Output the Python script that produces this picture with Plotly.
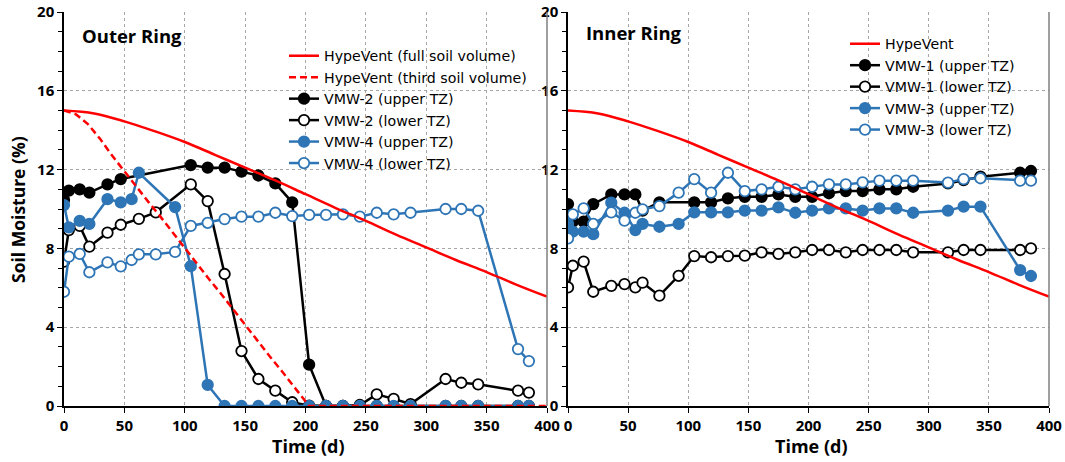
import plotly.graph_objects as go

# ---------------- data ----------------
# HypeVent model curves
hv_days = [0, 25, 50, 75, 100, 125, 150, 175, 200, 225, 250, 275, 300, 325, 350, 375, 400]
hv_full = [15.0, 14.85, 14.45, 13.95, 13.4, 12.75, 12.1, 11.45, 10.75, 10.05, 9.4, 8.7, 8.05, 7.4, 6.8, 6.15, 5.55]

hv3_days = [0, 10, 20, 30, 40, 50, 60, 70, 80, 90, 100, 110, 120, 130, 140, 150, 160, 170, 180, 190, 200, 203, 400]
hv3_vals = [15.0, 14.8, 14.3, 13.55, 12.7, 11.9, 11.15, 10.35, 9.6, 8.8, 8.0, 7.25, 6.45, 5.7, 4.9, 4.15, 3.35, 2.55, 1.8, 1.0, 0.25, 0.0, 0.0]

# Outer ring
vmw2u_days = [0, 4, 13, 21, 36, 47, 105, 119, 133, 147, 161, 175, 189, 203, 217, 231, 245, 259, 273, 287, 316, 329, 343, 376, 385]
vmw2u_vals = [10.46, 10.93, 11.0, 10.83, 11.25, 11.52, 12.23, 12.1, 12.1, 11.9, 11.7, 11.3, 10.34, 2.1, 0, 0, 0, 0, 0, 0, 0, 0, 0, 0, 0]

vmw2l_days = [0, 4, 13, 21, 36, 47, 62, 76, 105, 119, 133, 147, 161, 175, 189, 203, 217, 231, 245, 259, 273, 287, 316, 329, 343, 376, 385]
vmw2l_vals = [7.33, 8.93, 9.14, 8.09, 8.8, 9.2, 9.5, 9.83, 11.25, 10.4, 6.7, 2.79, 1.37, 0.78, 0.19, 0.02, 0, 0, 0.05, 0.59, 0.36, 0.1, 1.37, 1.18, 1.1, 0.78, 0.68]

vmw4u_days = [0, 4, 13, 21, 36, 47, 56, 62, 92, 105, 119, 133, 147, 161, 175, 189, 203, 217, 231, 245, 259, 273, 287, 316, 329, 343, 376, 385]
vmw4u_vals = [10.2, 9.07, 9.4, 9.24, 10.5, 10.34, 10.5, 11.84, 10.1, 7.1, 1.07, 0, 0, 0, 0, 0, 0, 0, 0, 0, 0, 0, 0, 0, 0, 0, 0, 0]

vmw4l_days = [0, 4, 13, 21, 36, 47, 56, 62, 76, 92, 105, 119, 133, 147, 161, 175, 189, 203, 217, 231, 245, 259, 273, 287, 316, 329, 343, 376, 385]
vmw4l_vals = [5.8, 7.58, 7.72, 6.79, 7.29, 7.09, 7.41, 7.7, 7.7, 7.82, 9.14, 9.3, 9.49, 9.61, 9.61, 9.81, 9.64, 9.7, 9.7, 9.73, 9.61, 9.81, 9.73, 9.81, 10.0, 10.0, 9.91, 2.89, 2.28]

# Inner ring
in_days = [0, 4, 13, 21, 36, 47, 56, 62, 76, 105, 119, 133, 147, 161, 175, 189, 203, 217, 231, 245, 259, 273, 287, 316, 329, 343, 376, 385]
vmw1u_vals = [10.25, 9.36, 9.36, 10.25, 10.74, 10.74, 10.74, 9.92, 10.34, 10.34, 10.34, 10.54, 10.62, 10.62, 10.74, 10.62, 10.62, 10.8, 10.91, 10.91, 11.0, 11.0, 11.13, 11.3, 11.47, 11.64, 11.84, 11.93]

in_days2 = [0, 4, 13, 21, 36, 47, 56, 62, 76, 92, 105, 119, 133, 147, 161, 175, 189, 203, 217, 231, 245, 259, 273, 287, 316, 329, 343, 376, 385]
vmw1l_vals = [6.02, 7.12, 7.33, 5.8, 6.1, 6.19, 6.02, 6.26, 5.6, 6.61, 7.61, 7.55, 7.61, 7.63, 7.8, 7.72, 7.8, 7.92, 7.92, 7.8, 7.92, 7.92, 7.92, 7.8, 7.8, 7.92, 7.92, 7.92, 8.0]
vmw3u_vals = [9.24, 8.85, 8.85, 8.72, 10.32, 9.81, 8.93, 9.24, 9.1, 9.24, 9.83, 9.83, 9.83, 9.92, 9.92, 10.08, 9.81, 9.92, 10.03, 10.03, 9.92, 10.03, 10.03, 9.81, 9.92, 10.12, 10.12, 6.9, 6.6]
vmw3l_vals = [8.51, 9.73, 10.03, 9.24, 9.83, 9.41, 9.81, 9.98, 10.15, 10.83, 11.52, 10.83, 11.84, 10.91, 11.0, 11.13, 11.0, 11.13, 11.25, 11.25, 11.35, 11.44, 11.44, 11.44, 11.34, 11.52, 11.56, 11.44, 11.44]

x_ticks = [0, 50, 100, 150, 200, 250, 300, 350, 400]
y_ticks = [0, 4, 8, 12, 16, 20]

# ---------------- style ----------------
RED = "#FF0000"
BLUE = "#2E75B6"
BLACK = "#000000"
FONT = "Open Sans"
LEGFONT = "DejaVu Sans"
LW = 2.5
MS = 10.5


def series(x, y, color, filled, name, xa, ya, legend, rank):
    return go.Scatter(
        x=x, y=y, name=name, mode="lines+markers",
        line=dict(color=color, width=LW),
        marker=dict(size=MS, color=color if filled else "white",
                    line=dict(color=color, width=1.8)),
        xaxis=xa, yaxis=ya, legend=legend, legendrank=rank,
    )


fig = go.Figure()

# Outer ring (left)
fig.add_trace(series(vmw2u_days, vmw2u_vals, BLACK, True, "VMW-2 (upper TZ)", "x", "y", "legend", 3))
fig.add_trace(series(vmw2l_days, vmw2l_vals, BLACK, False, "VMW-2 (lower TZ)", "x", "y", "legend", 4))
fig.add_trace(series(vmw4l_days, vmw4l_vals, BLUE, False, "VMW-4 (lower TZ)", "x", "y", "legend", 6))
fig.add_trace(series(vmw4u_days, vmw4u_vals, BLUE, True, "VMW-4 (upper TZ)", "x", "y", "legend", 5))
fig.add_trace(go.Scatter(x=hv_days, y=hv_full, name="HypeVent (full soil volume)", mode="lines",
                         line=dict(color=RED, width=LW, shape="spline"), xaxis="x", yaxis="y",
                         legend="legend", legendrank=1))
fig.add_trace(go.Scatter(x=hv3_days, y=hv3_vals, name="HypeVent (third soil volume)", mode="lines",
                         line=dict(color=RED, width=LW, dash="7px,4px"), xaxis="x", yaxis="y",
                         legend="legend", legendrank=2))

# Inner ring (right)
fig.add_trace(series(in_days, vmw1u_vals, BLACK, True, "VMW-1 (upper TZ)", "x2", "y2", "legend2", 2))
fig.add_trace(series(in_days2, vmw1l_vals, BLACK, False, "VMW-1 (lower TZ)", "x2", "y2", "legend2", 3))
fig.add_trace(series(in_days2, vmw3u_vals, BLUE, True, "VMW-3 (upper TZ)", "x2", "y2", "legend2", 4))
fig.add_trace(series(in_days2, vmw3l_vals, BLUE, False, "VMW-3 (lower TZ)", "x2", "y2", "legend2", 5))
fig.add_trace(go.Scatter(x=hv_days, y=hv_full, name="HypeVent", mode="lines",
                         line=dict(color=RED, width=LW, shape="spline"), xaxis="x2", yaxis="y2",
                         legend="legend2", legendrank=1))

W, H = 1065, 462
ydom = [1 - 406 / H, 1 - 12 / H]
xdom1 = [64 / W, 547 / W]
xdom2 = [568 / W, 1049 / W]

tickfont = dict(family=FONT, size=15, color="black", weight="bold")
xcommon = dict(range=[0, 400], tickvals=x_ticks, showgrid=True, gridcolor="#a6a6a6",
               griddash="dot", gridwidth=1, showline=True, linecolor="black", linewidth=1.5,
               ticks="outside", ticklen=5, tickcolor="black", tickfont=tickfont, zeroline=False,
               automargin=False)
ycommon = dict(range=[0, 20], tickvals=y_ticks, showgrid=True, gridcolor="#a6a6a6",
               griddash="dot", gridwidth=1, showline=True, linecolor="black", linewidth=1.5,
               ticks="outside", ticklen=5, tickcolor="black", tickfont=tickfont, zeroline=False,
               automargin=False,
               minor=dict(dtick=1, ticks="outside", ticklen=4, tickcolor="black", showgrid=False))

legfont = dict(family=LEGFONT, size=14.2, color="black")

fig.update_layout(
    width=W, height=H, margin=dict(l=0, r=0, t=0, b=0, autoexpand=False),
    paper_bgcolor="white", plot_bgcolor="white",
    xaxis=dict(domain=xdom1, anchor="y", **xcommon),
    yaxis=dict(domain=ydom, anchor="x", **ycommon),
    xaxis2=dict(domain=xdom2, anchor="y2", **xcommon),
    yaxis2=dict(domain=ydom, anchor="x2", **ycommon),
    legend=dict(x=284 / W, y=1 - 40 / H, xanchor="left", yanchor="top", bgcolor="rgba(0,0,0,0)",
                font=legfont, tracegroupgap=0, itemwidth=30),
    legend2=dict(x=845 / W, y=1 - 28 / H, xanchor="left", yanchor="top", bgcolor="rgba(0,0,0,0)",
                 font=legfont, tracegroupgap=0, itemwidth=30),
    showlegend=True,
    annotations=[
        dict(text="<b>Outer Ring</b>", x=80 / W, y=1 - 35 / H, xref="paper", yref="paper",
             xanchor="left", yanchor="middle", showarrow=False,
             font=dict(family=FONT, size=18.5, color="black")),
        dict(text="<b>Inner Ring</b>", x=584 / W, y=1 - 33 / H, xref="paper", yref="paper",
             xanchor="left", yanchor="middle", showarrow=False,
             font=dict(family=FONT, size=18.5, color="black")),
        dict(text="<b>Time (d)</b>", x=308 / W, y=1 - 446 / H, xref="paper", yref="paper",
             xanchor="center", yanchor="middle", showarrow=False,
             font=dict(family=FONT, size=18, color="black")),
        dict(text="<b>Time (d)</b>", x=811 / W, y=1 - 446 / H, xref="paper", yref="paper",
             xanchor="center", yanchor="middle", showarrow=False,
             font=dict(family=FONT, size=18, color="black")),
        dict(text="<b>Soil Moisture (%)</b>", x=18 / W, y=1 - 210 / H, xref="paper", yref="paper",
             xanchor="center", yanchor="middle", showarrow=False, textangle=-90,
             font=dict(family=FONT, size=17.5, color="black")),
    ],
    shapes=[
        dict(type="line", xref="x domain", yref="y domain", x0=1, x1=1, y0=0, y1=1,
             line=dict(color="#7f7f7f", width=1.5)),
        dict(type="line", xref="x2 domain", yref="y2 domain", x0=1, x1=1, y0=0, y1=1,
             line=dict(color="#7f7f7f", width=1.5)),
    ],
)

fig.write_html("out.html")
